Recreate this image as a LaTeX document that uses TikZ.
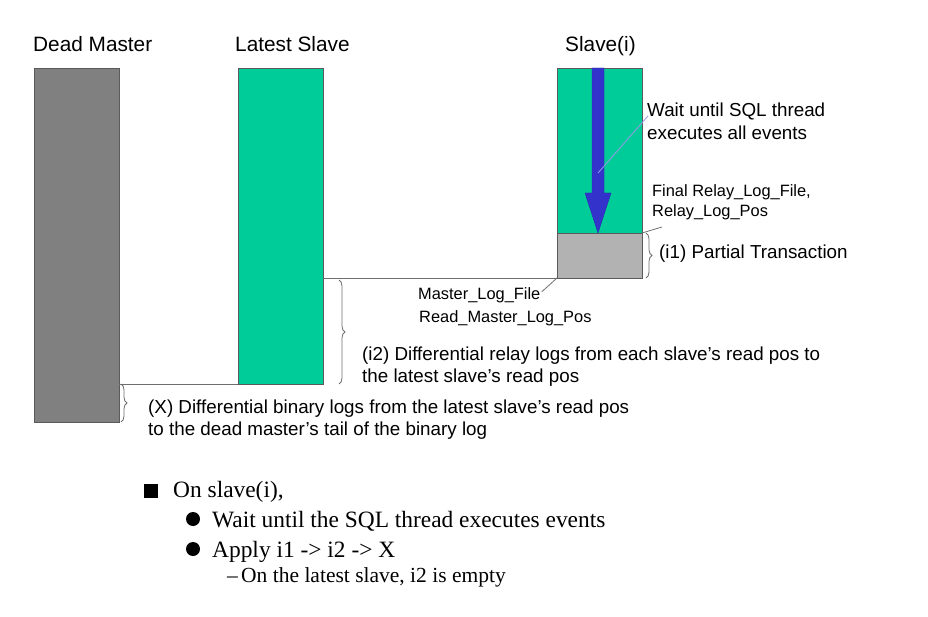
\documentclass[tikz,border=0pt]{standalone}
\usepackage{fontspec}
\setmainfont{Liberation Sans}
\newfontfamily\listfont{Liberation Serif}
\usepackage{tikz}
\usetikzlibrary{decorations.pathreplacing}

\begin{document}
\begin{tikzpicture}[x=1pt,y=1pt,yscale=-1,xscale=1,
	lbl/.style={anchor=base west,inner sep=0pt,font=\fontsize{18.8}{22}\selectfont},
	smalllbl/.style={anchor=base west,inner sep=0pt,font=\fontsize{16.4}{19}\selectfont},
	titlelbl/.style={anchor=base west,inner sep=0pt,font=\fontsize{20.8}{24}\selectfont},
	listlbl/.style={anchor=base west,inner sep=0pt,font=\listfont\fontsize{23.4}{27}\selectfont},
	sublbl/.style={anchor=base west,inner sep=0pt,font=\listfont\fontsize{21.5}{25}\selectfont},
	logbox/.style={draw={rgb, 255:red, 90; green, 90; blue, 90},line width=0.8pt},
	posline/.style={draw={rgb, 255:red, 110; green, 110; blue, 110},line width=0.8pt},
	logbrace/.style={draw={rgb, 255:red, 110; green, 110; blue, 110},line width=0.8pt,decorate,decoration={brace,amplitude=6pt}}]
	\useasboundingbox (0,0) rectangle (928,617);
	
	%Shape: Rectangle [dead master]
	\draw [logbox,fill={rgb, 255:red, 128; green, 128; blue, 128}] (34,68) rectangle (119,422) ;
	%Shape: Rectangle [latest slave]
	\draw [logbox,fill={rgb, 255:red, 0; green, 204; blue, 153}] (238,68) rectangle (323,384) ;
	%Shape: Rectangle [slave i]
	\draw [logbox,fill={rgb, 255:red, 0; green, 204; blue, 153}] (557,68) rectangle (642,233) ;
	%Shape: Rectangle [partial transaction]
	\draw [logbox,fill={rgb, 255:red, 178; green, 178; blue, 178}] (557,233) rectangle (642,278) ;
	
	%Straight Lines
	\draw [posline] (119,384) -- (238,384) ;
	\draw [posline] (323,278) -- (557,278) ;
	
	%Shape: Arrow [sql thread]
	\draw [fill={rgb, 255:red, 51; green, 51; blue, 204},draw={rgb, 255:red, 40; green, 40; blue, 180}] (592,68) -- (604,68) -- (604,193) -- (611,193) -- (598,233) -- (585,193) -- (592,193) -- cycle ;
	
	%Shape: Braces
	\draw [logbrace] (646,233) -- (646,278) ;
	\draw [logbrace] (339,280) -- (339,384) ;
	\draw [logbrace] (121,384) -- (121,422) ;
	
	% Text Node
	\node (deadtitle) at (33,52) [titlelbl] {Dead Master};
	% Text Node
	\node (latesttitle) at (235,52) [titlelbl] {Latest Slave};
	% Text Node
	\node (slavetitle) at (565,52) [titlelbl] {Slave(i)};
	% Text Node
	\node (waitlbl) at (647,117) [lbl] {Wait until SQL thread};
	\node (waitlbltwo) at (647,140) [lbl] {executes all events};
	% Text Node
	\node (relaylbl) at (652,197) [smalllbl] {Final Relay\_Log\_File,};
	\node (relaylbltwo) at (652,217) [smalllbl] {Relay\_Log\_Pos};
	% Text Node
	\node (ionelbl) at (659,259) [lbl] {(i1) Partial Transaction};
	% Text Node
	\node (masterlbl) at (418,300) [smalllbl] {Master\_Log\_File};
	\node (masterlbltwo) at (419,322) [smalllbl] {Read\_Master\_Log\_Pos};
	% Text Node
	\node (itwolbl) at (362,360) [lbl] {(i2) Differential relay logs from each slave's read pos to};
	\node (itwolbltwo) at (362,382) [lbl] {the latest slave's read pos};
	% Text Node
	\node (xlbl) at (148,413) [lbl] {(X) Differential binary logs from the latest slave's read pos};
	\node (xlbltwo) at (148,435) [lbl] {to the dead master's tail of the binary log};
	
	%Straight Lines [leaders]
	\coordinate (sqlpoint) at (598,173);
	\coordinate (relaypos) at (642,233);
	\coordinate (readpos) at (557,278);
	\draw [draw={rgb, 255:red, 153; green, 153; blue, 230},line width=0.8pt] (waitlbl.west) ++(1,4) -- (sqlpoint) ;
	\draw [posline] (662,227) -- (relaypos) ;
	\draw [posline] (masterlbl.base east) ++(1,-8) -- (readpos) ;
	
	%Shape: Bullets
	\node (sqbullet) at (150.5,490.5) [fill=black,inner sep=0pt,minimum size=14pt] {};
	\node (dotone) at (193,519) [circle,fill=black,inner sep=0pt,minimum size=14pt] {};
	\node (dottwo) at (193,549) [circle,fill=black,inner sep=0pt,minimum size=14pt] {};
	% Text Node
	\node (onslave) at (173,497) [listlbl] {On slave(i),};
	\node (waitsql) at (212,527) [listlbl] {Wait until the SQL thread executes events};
	\node (apply) at (212,557) [listlbl] {Apply i1 -> i2 -> X};
	\node (dash) at (227,582) [sublbl] {–};
	\node (empty) at (241,582) [sublbl] {On the latest slave, i2 is empty};
	
\end{tikzpicture}
\end{document}
